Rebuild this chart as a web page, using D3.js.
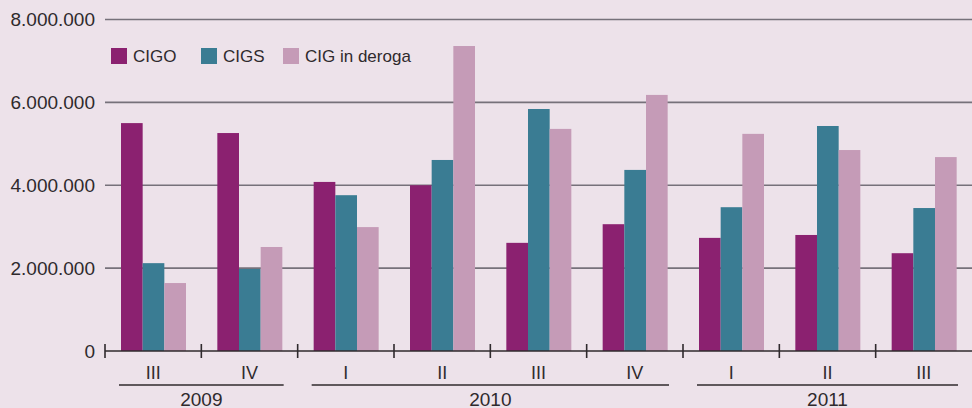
<!DOCTYPE html>
<html>
<head>
<meta charset="utf-8">
<script src="https://cdn.jsdelivr.net/npm/d3@7"></script>
<style>
  body { margin: 0; background: #ede2ea; }
  svg { display: block; font-family: "Liberation Sans", Arial, sans-serif; }
</style>
</head>
<body>
<svg width="972" height="408"></svg>
<script>
const quarters = ['III', 'IV', 'I', 'II', 'III', 'IV', 'I', 'II', 'III'];
const years = [
  { label: '2009', from: 0, to: 1 },
  { label: '2010', from: 2, to: 5 },
  { label: '2011', from: 6, to: 8 }
];
const seriesNames = ['CIGO', 'CIGS', 'CIG in deroga'];
const seriesColors = ['#8b2170', '#3a7c93', '#c59bb7'];
const cigo = [5500000, 5260000, 4080000, 4000000, 2610000, 3060000, 2730000, 2800000, 2360000];
const cigs = [2120000, 1980000, 3760000, 4610000, 5840000, 4370000, 3470000, 5430000, 3450000];
const deroga = [1640000, 2510000, 2990000, 7360000, 5360000, 6180000, 5240000, 4850000, 4680000];
const yTicks = [0, 2000000, 4000000, 6000000, 8000000];

const svg = d3.select('svg');
const plotLeft = 105, plotRight = 972, plotTop = 19.5, plotBottom = 351;

const x = d3.scaleBand()
  .domain(d3.range(quarters.length))
  .range([plotLeft, plotRight]);
const xInner = d3.scaleBand()
  .domain(d3.range(seriesNames.length))
  .range([16, 81]);
const y = d3.scaleLinear()
  .domain([0, 8000000])
  .range([plotBottom, plotTop]);

const fmt = v => d3.format(',')(v).replace(/,/g, '.');

// gridlines
svg.append('g')
  .selectAll('line')
  .data(yTicks.filter(d => d > 0))
  .enter()
  .append('line')
  .attr('x1', plotLeft)
  .attr('x2', plotRight)
  .attr('y1', d => y(d))
  .attr('y2', d => y(d))
  .style('stroke', '#76717a')
  .style('stroke-width', 1.6);

svg.append('g')
  .selectAll('text')
  .data(yTicks)
  .enter()
  .append('text')
  .attr('x', 95)
  .attr('y', d => y(d))
  .attr('dy', '0.35em')
  .attr('text-anchor', 'end')
  .style('font-size', '19px')
  .style('fill', '#2f2a2d')
  .text(fmt);

// bars
const allSeries = [cigo, cigs, deroga];
const groups = svg.append('g')
  .selectAll('g')
  .data(quarters)
  .enter()
  .append('g')
  .attr('transform', (d, i) => `translate(${x(i)},0)`);

groups.selectAll('rect')
  .data((d, i) => allSeries.map((s, k) => ({ k, v: s[i] })))
  .enter()
  .append('rect')
  .attr('x', d => xInner(d.k))
  .attr('width', xInner.bandwidth())
  .attr('y', d => y(d.v))
  .attr('height', d => plotBottom - y(d.v))
  .style('fill', d => seriesColors[d.k]);

// x axis
const axisG = svg.append('g').style('stroke', '#2f2a2d').style('stroke-width', 1.6);
axisG.append('line')
  .attr('x1', plotLeft).attr('x2', plotRight)
  .attr('y1', plotBottom).attr('y2', plotBottom);
axisG.selectAll('line.tick')
  .data(d3.range(quarters.length))
  .enter()
  .append('line')
  .attr('class', 'tick')
  .attr('x1', d => x(d)).attr('x2', d => x(d))
  .attr('y1', plotBottom - 7).attr('y2', plotBottom + 7);

svg.append('g')
  .selectAll('text')
  .data(quarters)
  .enter()
  .append('text')
  .attr('x', (d, i) => x(i) + x.bandwidth() / 2)
  .attr('y', 373)
  .attr('dy', '0.35em')
  .attr('text-anchor', 'middle')
  .style('font-size', '18px')
  .style('fill', '#2f2a2d')
  .text(d => d);

const yearG = svg.append('g')
  .selectAll('g')
  .data(years)
  .enter()
  .append('g');
yearG.append('line')
  .attr('x1', d => x(d.from) + 14)
  .attr('x2', d => x(d.to) + x.bandwidth() - 14)
  .attr('y1', 385).attr('y2', 385)
  .style('stroke', '#2f2a2d')
  .style('stroke-width', 1.6);
yearG.append('text')
  .attr('x', d => (x(d.from) + x(d.to) + x.bandwidth()) / 2)
  .attr('y', 406)
  .attr('text-anchor', 'middle')
  .style('font-size', '19px')
  .style('fill', '#2f2a2d')
  .text(d => d.label);

// legend
const legendX = [111, 201, 283];
const legend = svg.append('g')
  .selectAll('g')
  .data(seriesNames)
  .enter()
  .append('g')
  .attr('transform', (d, i) => `translate(${legendX[i]},48)`);
legend.append('rect')
  .attr('width', 16)
  .attr('height', 16)
  .style('fill', (d, i) => seriesColors[i]);
legend.append('text')
  .attr('x', 22)
  .attr('y', 8)
  .attr('dy', '0.35em')
  .style('font-size', '17px')
  .style('fill', '#2f2a2d')
  .text(d => d);
</script>
</body>
</html>
